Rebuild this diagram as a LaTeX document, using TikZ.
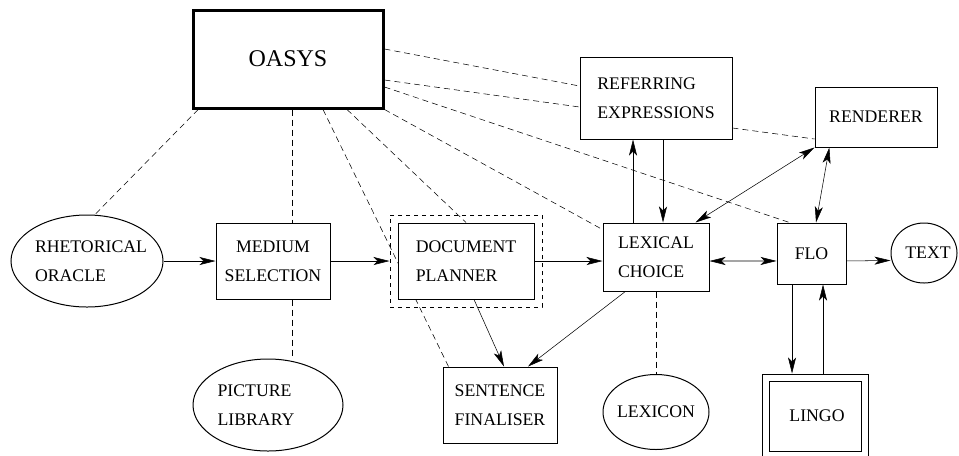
\documentclass[tikz,border=0pt]{standalone}
\usepackage{fontspec}
\setmainfont{Liberation Serif}
\usetikzlibrary{arrows.meta,shapes.geometric,backgrounds}

\tikzset{every picture/.style={line width=0.75pt}}
\tikzset{
  modfont/.style={font=\fontsize{13.3}{21.75}\selectfont},
  box/.style={draw, fill=white, inner sep=0pt, align=left, modfont},
  oval/.style={draw, fill=white, ellipse, inner sep=0pt},
  ovaltext/.style={align=left, inner sep=0pt, modfont},
  dep/.style={dash pattern=on 4.5pt off 3pt},
  arr/.style={-{Stealth[length=12pt,width=6pt,inset=3pt]}},
  darr/.style={{Stealth[length=12pt,width=6pt,inset=3pt]}-{Stealth[length=12pt,width=6pt,inset=3pt]}},
}

\begin{document}
\begin{tikzpicture}[x=0.75pt,y=0.75pt,yscale=-1,xscale=1]
	\path[use as bounding box] (0,0) rectangle (959,455);

	% Modules
	\node[box, line width=2.25pt, font=\fontsize{18}{22}\selectfont, minimum width=142.5pt, minimum height=73.5pt] (oasys) at (288,59) {OASYS};
	\node[box, minimum width=114pt, minimum height=61.5pt] (ref) at (656,98) {REFERRING\\EXPRESSIONS};
	\node[box, minimum width=91.5pt, minimum height=45pt] (ren) at (876,117) {RENDERER};
	\node[oval, minimum width=114pt, minimum height=69pt, label={[ovaltext,xshift=3pt]center:RHETORICAL\\ORACLE}] (rhet) at (87,261) {};
	\node[box, align=center, minimum width=85.5pt, minimum height=57pt] (med) at (273,261) {MEDIUM\\SELECTION};
	\node[draw, dashed, inner sep=0pt, minimum width=114pt, minimum height=69pt] (docout) at (466,261) {};
	\node[box, minimum width=102pt, minimum height=57pt] (doc) at (466,261) {DOCUMENT\\PLANNER};
	\node[box, minimum width=79.5pt, minimum height=51pt] (lex) at (656,257) {LEXICAL\\CHOICE};
	\node[box, minimum width=51.75pt, minimum height=45.75pt] (flo) at (811.5,253.5) {FLO};
	\node[oval, minimum width=49.5pt, minimum height=45pt, label={[ovaltext,xshift=3pt]center:TEXT}] (text) at (924,253) {};
	\node[box, minimum width=85.5pt, minimum height=57pt] (sent) at (500,405) {SENTENCE\\FINALISER};
	\node[oval, minimum width=112.5pt, minimum height=69pt, label={[ovaltext,xshift=-9pt]center:PICTURE\\LIBRARY}] (pic) at (268,405) {};
	\node[oval, minimum width=79.5pt, minimum height=56.25pt, label={[ovaltext]center:LEXICON}] (lexicon) at (656,412) {};
	\node[draw, inner sep=0pt, minimum width=79.5pt, minimum height=63pt] (lingoout) at (815,416) {};
	\node[box, minimum width=69pt, minimum height=52.5pt] (lingo) at (815,416) {\hspace*{3pt}LINGO};

	% Dashed links to OASYS and the knowledge sources
	% (yscale=-1: a positive yshift moves down)
	\begin{pgfonlayer}{background}
	\draw[dep] ([xshift=5pt]oasys.south west) -- ([xshift=6pt]rhet.north);
	\draw[dep] ([xshift=3pt]oasys.south) -- ([xshift=3pt]oasys.south |- med.north);
	\draw[dep] ([xshift=14.25pt]med.south) -- ([xshift=14.25pt]med.south |- pic.north);
	\draw[dep] ([xshift=26.25pt]oasys.south) -- ([xshift=4.5pt]sent.north west);
	\draw[dep] ([xshift=44.25pt]oasys.south) -- (doc.north);
	\draw[dep] (oasys.south east) -- ([yshift=5.25pt]lex.north west);
	\draw[dep] ([yshift=-7.5pt]oasys.east) -- ([yshift=-9pt]ref.west);
	\draw[dep] ([yshift=15.75pt]oasys.east) -- ([yshift=6.75pt]ref.west);
	\draw[dep] ([yshift=21pt]oasys.east) -- ([xshift=9.75pt]flo.north west);
	\draw[dep] ([yshift=22.5pt]ref.east) -- ([yshift=16.5pt]ren.west);
	\draw[dep] (lex.south) -- (lexicon.north);
	\end{pgfonlayer}

	% Data flow
	\draw[arr] (rhet) -- (med);
	\draw[arr] (med) -- (docout);
	\draw[arr] (doc.east) -- (doc.east -| lex.west);
	\draw[arr] ([xshift=6pt]doc.south) -- ([xshift=3pt]sent.north);
	\draw[arr] ([xshift=-23pt]lex.south) -- ([xshift=21pt]sent.north);
	\draw[darr] ([yshift=3pt]lex.east) -- ([yshift=5.6pt]flo.west);
	\draw[arr] ([yshift=5.6pt]flo.east) -- ([yshift=5.6pt]text.west);
	\draw[arr] ([xshift=-14.6pt]flo.south) -- ([xshift=-14.6pt]flo.south |- lingoout.north);
	\draw[arr] ([xshift=6pt]lingoout.north) -- ([xshift=6pt]lingoout.north |- flo.south);
	\draw[arr] ([xshift=-17.25pt]lex.north) -- ([xshift=-17.25pt]lex.north |- ref.south);
	\draw[arr] ([xshift=5.25pt]ref.south) -- ([xshift=5.25pt]ref.south |- lex.north);
	\draw[darr] ([xshift=-10.5pt]lex.north east) -- (ren.south west);
	\draw[darr] ([xshift=-35pt]ren.south) -- ([xshift=3.4pt]flo.north);

\end{tikzpicture}
\end{document}
